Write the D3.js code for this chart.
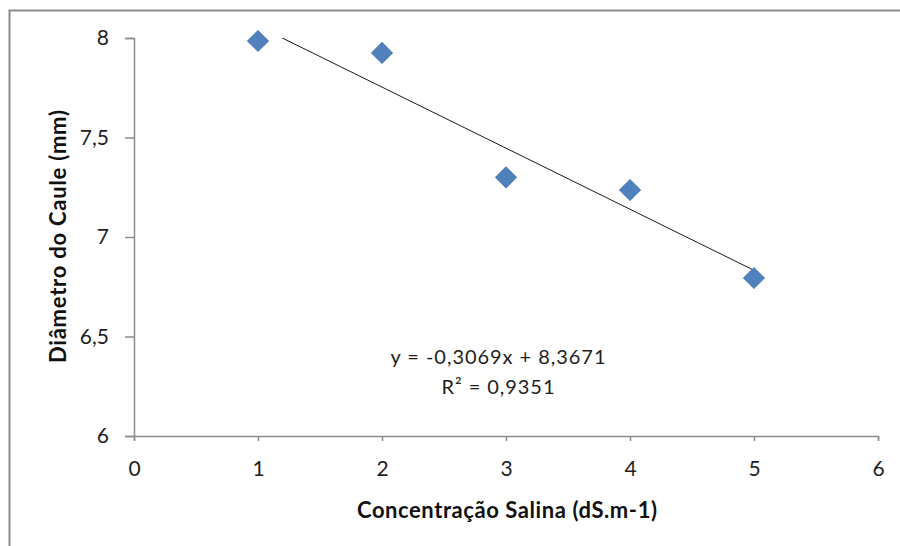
<!DOCTYPE html>
<html>
<head>
<meta charset="utf-8">
<script src="https://cdn.jsdelivr.net/npm/d3@7"></script>
<style>
  body { margin: 0; background: #fff; }
  text { font-family: Lato, "Open Sans", sans-serif; }
</style>
</head>
<body>
<div id="chart"></div>
<script>
// data
var concentracao = [1, 2, 3, 4, 5]
var diametro = [7.985, 7.925, 7.30, 7.236, 6.794]
var xTicks = [0, 1, 2, 3, 4, 5, 6]
var yTicks = [6, 6.5, 7, 7.5, 8]

// trend line (as written in the chart)
var slope = -0.3069
var intercept = 8.3671
var r2 = 0.9351

var width = 900
var height = 546
var margin = {left: 134, right: 22, top: 38, bottom: 110}

var svg = d3.select("#chart")
  .append("svg")
  .attr("width", width)
  .attr("height", height)

// outer chart frame (cut by the window on right and bottom)
svg.append("rect")
  .attr("x", 9.5)
  .attr("y", 10.5)
  .attr("width", 1000)
  .attr("height", 1000)
  .attr("fill", "none")
  .attr("stroke", "#8c8c8c")
  .attr("stroke-width", 2)

var x = d3.scaleLinear().domain([0, 6]).range([margin.left, width - margin.right])
var y = d3.scaleLinear().domain([6, 8]).range([height - margin.bottom, margin.top])

var fmt = function(d) { return String(d).replace(".", ",") }

// x axis
var gx = svg.append("g")
  .attr("transform", "translate(0," + y(6) + ")")
  .call(d3.axisBottom(x).tickValues(xTicks).tickSize(5).tickPadding(20).tickFormat(fmt))

// y axis
var gy = svg.append("g")
  .attr("transform", "translate(" + x(0) + ",0)")
  .call(d3.axisLeft(y).tickValues(yTicks).tickSize(9).tickPadding(16).tickFormat(fmt))

svg.selectAll(".domain, .tick line").attr("stroke", "#8c8c8c").attr("stroke-width", 1.5)
svg.selectAll(".tick text")
  .attr("font-family", "Lato, sans-serif")
  .attr("font-size", "21px")
  .attr("fill", "#1e1e1e")

// clip to plot area
svg.append("clipPath").attr("id", "plot")
  .append("rect")
  .attr("x", x(0)).attr("y", y(8))
  .attr("width", x(6) - x(0)).attr("height", y(6) - y(8))

// linear trend line from x=1 to x=5
svg.append("line")
  .attr("clip-path", "url(#plot)")
  .attr("x1", x(1)).attr("y1", y(slope * 1 + intercept))
  .attr("x2", x(5)).attr("y2", y(slope * 5 + intercept))
  .attr("stroke", "#1a1a1a")
  .attr("stroke-width", 1)

// diamond markers
var diamond = d3.symbol().type(d3.symbolSquare).size(215)
svg.append("g")
  .selectAll("path")
  .data(concentracao)
  .enter()
  .append("path")
  .attr("d", diamond)
  .attr("transform", function(d, i) {
    return "translate(" + x(d) + "," + y(diametro[i]) + ") rotate(45)"
  })
  .attr("fill", "#4f81bd")
  .attr("stroke", "#4a7ab3")
  .attr("stroke-width", 1)

// equation label
svg.append("text")
  .attr("x", 498)
  .attr("y", 364)
  .attr("text-anchor", "middle")
  .attr("font-size", "20px")
  .attr("fill", "#1e1e1e")
  .attr("textLength", 215)
  .text("y = " + fmt(slope) + "x + " + fmt(intercept))

svg.append("text")
  .attr("x", 498)
  .attr("y", 394)
  .attr("text-anchor", "middle")
  .attr("font-size", "20px")
  .attr("fill", "#1e1e1e")
  .attr("textLength", 113)
  .text("R² = " + fmt(r2))

// axis titles
svg.append("text")
  .attr("x", 507)
  .attr("y", 518)
  .attr("text-anchor", "middle")
  .attr("font-size", "22px")
  .attr("font-weight", 700)
  .attr("fill", "#111")
  .attr("textLength", 300)
  .text("Concentração Salina (dS.m-1)")

svg.append("text")
  .attr("transform", "translate(66,236.5) rotate(-90)")
  .attr("text-anchor", "middle")
  .attr("font-size", "22px")
  .attr("font-weight", 700)
  .attr("fill", "#111")
  .attr("textLength", 253)
  .text("Diâmetro do Caule (mm)")
</script>
</body>
</html>
